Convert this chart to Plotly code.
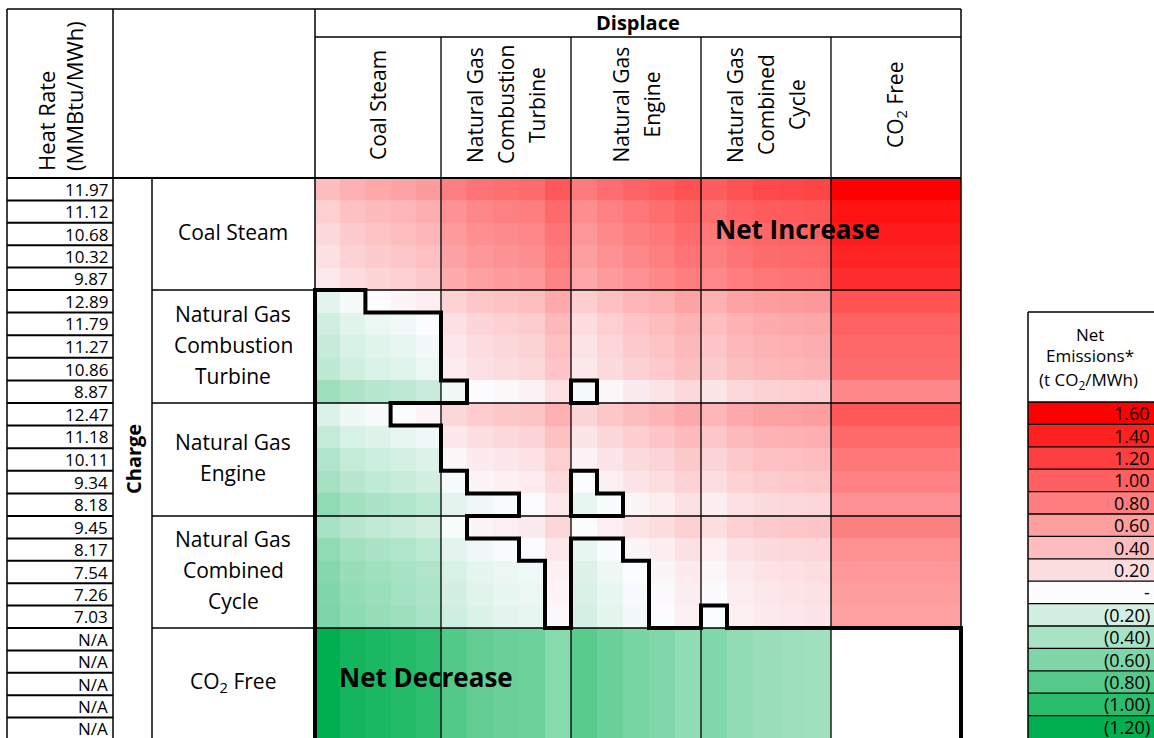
import plotly.graph_objects as go

W, H = 1154, 738
FONT = "Open Sans"

# ---------------- data ----------------
group_lines = [["Coal Steam"],
               ["Natural Gas", "Combustion", "Turbine"],
               ["Natural Gas", "Engine"],
               ["Natural Gas", "Combined", "Cycle"],
               ["CO<sub>2</sub> Free"]]

heat_rate_labels = ["11.97", "11.12", "10.68", "10.32", "9.87",
                    "12.89", "11.79", "11.27", "10.86", "8.87",
                    "12.47", "11.18", "10.11", "9.34", "8.18",
                    "9.45", "8.17", "7.54", "7.26", "7.03",
                    "N/A", "N/A", "N/A", "N/A", "N/A"]

# emissions from charging the storage, per MWh discharged (t CO2/MWh), by charging unit (rows)
charge_emissions = [1.3566, 1.2603, 1.2104, 1.1696, 1.1186,
                    0.9126, 0.8347, 0.7979, 0.7689, 0.6280,
                    0.8829, 0.7915, 0.7158, 0.6613, 0.5791,
                    0.6691, 0.5784, 0.5338, 0.5140, 0.4977,
                    0.0, 0.0, 0.0, 0.0, 0.0]

# emissions avoided by the displaced unit (t CO2/MWh), by displaced unit (columns)
displaced_emissions = [1.0175, 0.9452, 0.9078, 0.8772, 0.8390,
                       0.6845, 0.6260, 0.5984, 0.5767, 0.4710,
                       0.6622, 0.5937, 0.5368, 0.4960, 0.4344,
                       0.5018, 0.4338, 0.4004, 0.3855, 0.3733,
                       0.0, 0.0, 0.0, 0.0, 0.0]

legend_values = [1.6, 1.4, 1.2, 1.0, 0.8, 0.6, 0.4, 0.2, 0.0,
                 -0.2, -0.4, -0.6, -0.8, -1.0, -1.2]
legend_labels = ["1.60", "1.40", "1.20", "1.00", "0.80", "0.60", "0.40", "0.20", "-",
                 "(0.20)", "(0.40)", "(0.60)", "(0.80)", "(1.00)", "(1.20)"]

N = len(charge_emissions)
net_full = [[charge_emissions[i] - displaced_emissions[j] for j in range(N)] for i in range(N)]
free_rows = [i for i in range(N) if charge_emissions[i] == 0]
free_cols = [j for j in range(N) if displaced_emissions[j] == 0]
net = [[None if (i in free_rows and j in free_cols) else net_full[i][j] for j in range(N)]
       for i in range(N)]

vals = [v for r in net for v in r if v is not None]
zmin, zmax = min(vals), max(vals)

GREEN, WHITE, RED = "#00B050", "#FCFCFF", "#FF0000"


def scale(lo, hi):
    m = -lo / (hi - lo)
    return [[0, GREEN], [m, WHITE], [1, RED]]


# ---------------- geometry (page pixels) ----------------
BLOCK_X = [315, 441, 571, 701, 831, 961]
BLOCK_Y = [178, 290, 403, 516, 628, 740]


def split(edges):
    out = []
    for a, b in zip(edges[:-1], edges[1:]):
        for k in range(5):
            out.append(a + (b - a) * k / 5)
    out.append(edges[-1])
    return out


XE = split(BLOCK_X)      # 26 column edges
YE = split(BLOCK_Y)      # 26 row edges
GX0, GX1, GY0 = BLOCK_X[0], BLOCK_X[-1], BLOCK_Y[0]
LX0, LY0, LY1 = 1028.0, 402.0, 738.0
LRH = (LY1 - LY0) / len(legend_values)
LE = [LY0 + k * LRH for k in range(len(legend_values) + 1)]

fig = go.Figure()
fig.add_trace(go.Heatmap(
    z=net, x=XE, y=YE,
    colorscale=scale(zmin, zmax), zmin=zmin, zmax=zmax,
    showscale=False, hoverinfo="skip"))

fig.add_trace(go.Heatmap(
    z=[[v] for v in legend_values], x=[LX0, W + 10], y=LE,
    colorscale=scale(min(legend_values), max(legend_values)),
    zmin=min(legend_values), zmax=max(legend_values),
    showscale=False, hoverinfo="skip"))

shapes = []


def line(x0, y0, x1, y1, w=1.3, c="black"):
    shapes.append(dict(type="line", xref="x", yref="y",
                       x0=x0, y0=y0, x1=x1, y1=y1,
                       line=dict(color=c, width=w), layer="above"))


# header frame
line(7, 9, GX1, 9, 1.5)
line(GX0, 37, GX1, 37, 1.3)
line(7, GY0, GX1, GY0, 2)
for x in (7, 113, GX0, GX1):
    line(x, 9, x, 740, 1.5)
for x in BLOCK_X[1:-1]:
    line(x, 37, x, 740, 1.3)
line(152, GY0, 152, 740, 1.5)
for y in BLOCK_Y[1:-1]:
    line(152, y, GX1, y, 1.3)
for y in YE[1:]:
    line(7, y, 113, y, 2)

# legend frame
line(LX0, 312, LX0, LY1, 1.5)
line(LX0, 312, W, 312, 1.5)
line(LX0, LY0, W, LY0, 1.5)
for y in LE[1:-1]:
    line(LX0, y, W, y, 1.3)


# thick outline around the cells with net <= 0
def inreg(i, j):
    return 0 <= i < N and 0 <= j < N and net_full[i][j] <= 0


segs = []
for i in range(N):
    for j in range(N):
        if not inreg(i, j):
            continue
        if not inreg(i - 1, j):
            segs.append(((j, i), (j + 1, i)))
        if not inreg(i + 1, j):
            segs.append(((j, i + 1), (j + 1, i + 1)))
        if not inreg(i, j - 1):
            segs.append(((j, i), (j, i + 1)))
        if not inreg(i, j + 1):
            segs.append(((j + 1, i), (j + 1, i + 1)))

TW = 4.0
path = ""
for (a, b) in segs:
    x0, y0 = XE[a[0]], YE[a[1]]
    x1, y1 = XE[b[0]], YE[b[1]]
    if y0 == y1:
        x0 -= TW / 2
        x1 += TW / 2
    else:
        y0 -= TW / 2
        y1 += TW / 2
    path += "M%.2f,%.2f L%.2f,%.2f " % (x0, y0, x1, y1)
shapes.append(dict(type="path", xref="x", yref="y", path=path,
                   line=dict(color="black", width=TW), layer="above"))

ann = []


def text(x, y, s, size=19, bold=False, angle=0, xanchor="center", yanchor="middle"):
    ann.append(dict(x=x, y=y, xref="x", yref="y",
                    text=("<b>%s</b>" % s) if bold else s, showarrow=False,
                    font=dict(family=FONT, size=size, color="black"),
                    textangle=angle, xanchor=xanchor, yanchor=yanchor,
                    borderpad=0))


# left header
text(46, 172, "Heat Rate", 22, angle=-90, yanchor="bottom")
text(74, 172, "(MMBtu/MWh)", 22, angle=-90, yanchor="bottom")
text((GX0 + GX1) / 2, 22, "Displace", 20, bold=True)

# column headers
for b, lines in enumerate(group_lines):
    cxm = (BLOCK_X[b] + BLOCK_X[b + 1]) / 2
    n = len(lines)
    for k, s in enumerate(lines):
        text(cxm + (k - (n - 1) / 2) * 31, 105, s, 21, angle=-90)

# row group labels
for g, lines in enumerate(group_lines):
    cym = (BLOCK_Y[g] + BLOCK_Y[g + 1]) / 2
    n = len(lines)
    for k, s in enumerate(lines):
        text(233, cym - 2 + (k - (n - 1) / 2) * 31, s, 21)

# heat rate labels
for i, lab in enumerate(heat_rate_labels):
    text(109, (YE[i] + YE[i + 1]) / 2, lab, 17, xanchor="right")

text(133, (GY0 + 740) / 2, "Charge", 20, bold=True, angle=-90)

text(797, 229, "Net Increase", 26, bold=True)
text(426, 677, "Net Decrease", 26, bold=True)

# legend texts
text(1090, 334, "Net", 17)
text(1090, 355, "Emissions*", 17)
text(1088, 380, "(t CO<sub>2</sub>/MWh)", 17)
for k, lab in enumerate(legend_labels):
    text(1151, (LE[k] + LE[k + 1]) / 2, lab, 18, xanchor="right")

fig.update_layout(
    width=W, height=H, margin=dict(l=0, r=0, t=0, b=0),
    paper_bgcolor="white", plot_bgcolor="white",
    showlegend=False,
    xaxis=dict(domain=[0, 1], range=[0, W], visible=False, fixedrange=True),
    yaxis=dict(domain=[0, 1], range=[H, 0], visible=False, fixedrange=True),
    shapes=shapes, annotations=ann,
)

fig.write_html("out.html", config={"displayModeBar": False},
               post_script="document.body.style.margin='0';document.body.style.overflow='hidden';")
